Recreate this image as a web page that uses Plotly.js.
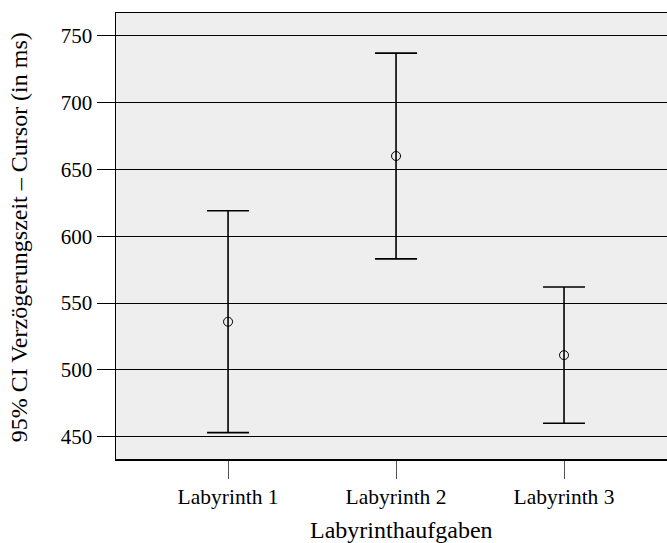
<!DOCTYPE html>
<html>
<head>
<meta charset="utf-8">
<script src="https://cdn.plot.ly/plotly-3.0.1.min.js"></script>
<style>html,body{margin:0;padding:0;background:#fff;}#chart{width:667px;height:543px;}</style>
</head>
<body>
<div id="chart"></div>
<script>
const categories = ["Labyrinth 1", "Labyrinth 2", "Labyrinth 3"];
const means = [536, 660, 511];
const upper = [619, 737, 562];
const lower = [453, 583, 460];
const yTicks = [450, 500, 550, 600, 650, 700, 750];
const xTitle = 'Labyrinthaufgaben';
const yTitle = '95% CI Verzögerungszeit – Cursor (in ms)';

const xIdx = categories.map((c, i) => i);
const trace = {
  x: xIdx,
  y: means,
  type: 'scatter',
  mode: 'markers',
  marker: {symbol: 'circle-open', size: 9, color: '#000', line: {width: 1, color: '#000'}},
  error_y: {
    type: 'data',
    symmetric: false,
    array: upper.map((u, i) => u - means[i]),
    arrayminus: lower.map((l, i) => means[i] - l),
    color: '#000',
    thickness: 1.6,
    width: 21
  },
  hoverinfo: 'skip',
  showlegend: false
};

const fam = '"Liberation Serif", "Times New Roman", serif';
const font = {family: fam, size: 21, color: '#000'};

const layout = {
  width: 667, height: 543,
  margin: {l: 116, r: 0, t: 13, b: 84},
  paper_bgcolor: '#fff',
  plot_bgcolor: '#eeeeee',
  font: font,
  xaxis: {
    range: [-0.667, 2.613],
    tickmode: 'array',
    tickvals: xIdx,
    ticktext: categories,
    ticks: 'outside', ticklen: 18, tickcolor: '#555', tickwidth: 1,
    showgrid: false, zeroline: false,
    showline: true, linecolor: '#000', linewidth: 1.5, mirror: true,
    tickfont: {family: fam, size: 21.5, color: '#000'}
  },
  yaxis: {
    range: [433.3, 767],
    tickmode: 'array',
    tickvals: yTicks,
    ticks: 'outside', ticklen: 18, tickcolor: '#000', tickwidth: 1,
    showgrid: true, gridcolor: '#000', gridwidth: 1,
    zeroline: false,
    showline: true, linecolor: '#000', linewidth: 1.5, mirror: true,
    tickfont: font
  },
  annotations: [{
    text: xTitle, xref: 'paper', yref: 'paper',
    x: 0.519, y: -0.159, xanchor: 'center', yanchor: 'middle',
    showarrow: false, font: {family: fam, size: 24, color: '#000'}
  }, {
    text: yTitle, xref: 'paper', yref: 'paper',
    x: -0.176, y: 0.497, xanchor: 'center', yanchor: 'middle', textangle: -90,
    showarrow: false, font: {family: fam, size: 24, color: '#000'}
  }]
};

Plotly.newPlot('chart', [trace], layout, {displayModeBar: false, staticPlot: true});
</script>
</body>
</html>
